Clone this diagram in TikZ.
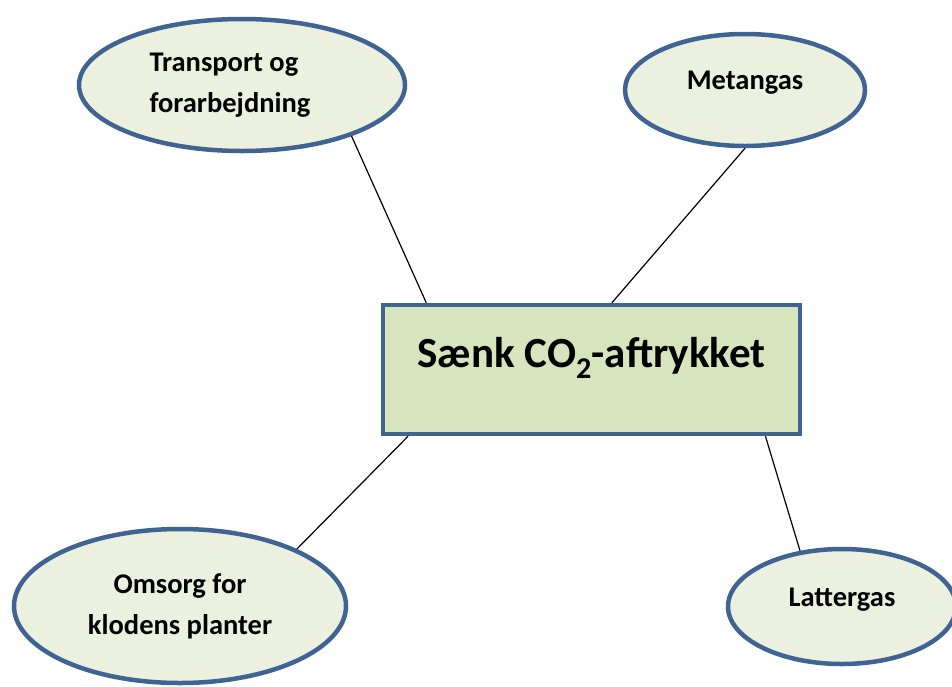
\documentclass[tikz,border=0pt]{standalone}
\usepackage{fontspec}
\setmainfont{Carlito}
\usepackage{xcolor}
\usepackage{tikz}
\usetikzlibrary{shapes.geometric}
\definecolor{rimblue}{HTML}{3F6494}
\definecolor{boxgreen}{HTML}{D7E4BD}
\definecolor{ovalgreen}{HTML}{EBF1DE}

\begin{document}
\begin{tikzpicture}[x=1pt,y=-1pt,
  oval/.style={ellipse, draw=rimblue, fill=ovalgreen, line width=4.5pt, inner sep=0pt,
    font=\bfseries\fontsize{28.5}{41}\selectfont},
  goalbox/.style={rectangle, draw=rimblue, fill=boxgreen, line width=4.5pt, inner sep=0pt,
    minimum width=417pt, minimum height=129pt, text height=29pt, text depth=33pt,
    font=\bfseries\fontsize{43}{50}\selectfont},
  link/.style={black, line width=1.2pt}]
\useasboundingbox (0,0) rectangle (952,686);
% Centre box
\node[goalbox] (goal) at (591.5,369.5) {Sænk CO\textsubscript{2}-aftrykket};
% Ellipses
\node[oval, minimum width=326pt, minimum height=132pt, text width=185pt, align=flush left] (transport) at (242,85) {Transport og\\forarbejdning};
\node[oval, minimum width=240pt, minimum height=112pt, text height=19pt, text depth=20pt] (metan) at (745,90) {Metangas};
\node[oval, minimum width=332pt, minimum height=154pt, align=center] (omsorg) at (180,606) {Omsorg for\\klodens planter};
\node[oval, minimum width=228pt, minimum height=115pt, text height=19pt, text depth=20pt] (latter) at (842,606.5) {Lattergas};
% Connectors
\draw[link] (transport.-25) -- (goal.158);
\draw[link] (metan.south) -- (goal.73);
\draw[link] (omsorg.26) -- (goal.-160);
\draw[link] (latter.127) -- (goal.-21);
\end{tikzpicture}
\end{document}
